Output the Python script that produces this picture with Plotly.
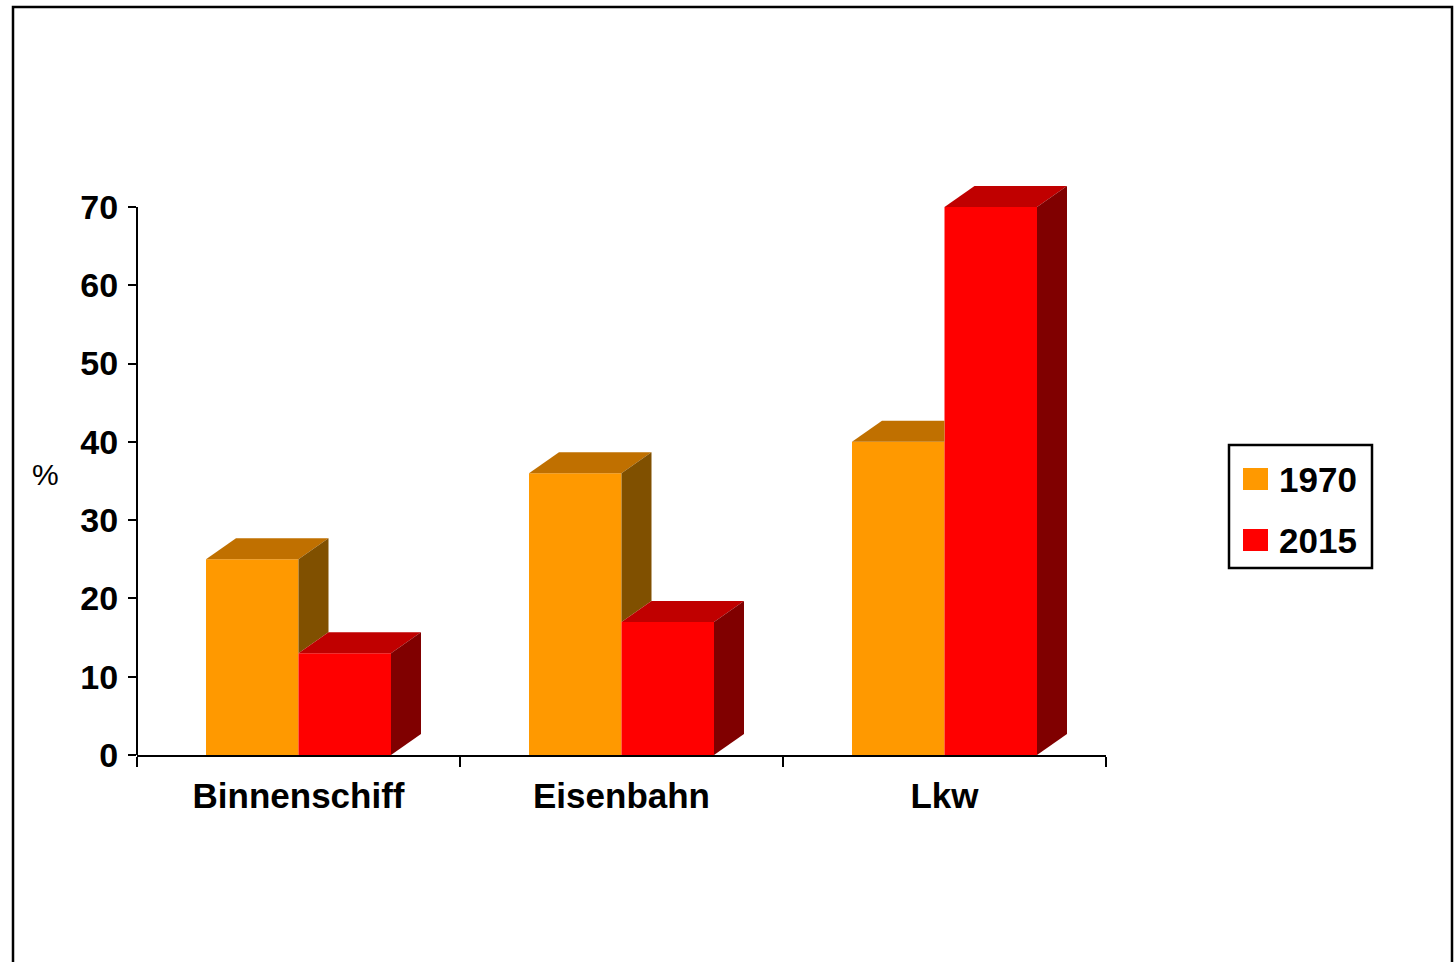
import plotly.graph_objects as go

# Modal split of freight transport, share in percent
categories = ["Binnenschiff", "Eisenbahn", "Lkw"]
years = ["1970", "2015"]
share_1970 = [25, 36, 40]
share_2015 = [13, 17, 70]
y_ticks = [0, 10, 20, 30, 40, 50, 60, 70]

front_colors = {"1970": "#FF9900", "2015": "#FF0000"}
top_colors = {"1970": "#C07000", "2015": "#C00000"}
side_colors = {"1970": "#805000", "2015": "#800000"}

FONT = "Liberation Sans, Arial, Helvetica, sans-serif"

# Page and plot-area geometry (pixels)
W, H = 1456, 962
PL, PR = 137, 1106          # plot area left / right
PT, PB = 180, 755           # plot area top / bottom
Y_LAST_PX = 207             # pixel row of the top tick
y_px_per_unit = (PB - Y_LAST_PX) / y_ticks[-1]
x_px_per_unit = (PR - PL) / 3.0
y_top = (PB - PT) / y_px_per_unit

# Bar width and the fake 3-D depth, in data units
BW = 92.5 / x_px_per_unit
DX = 30 / x_px_per_unit
DY = 21 / y_px_per_unit


def px_x(p):
    return (p - PL) / (PR - PL)


def px_y(p):
    return (PB - p) / (PB - PT)


fig = go.Figure()

# Front faces
for yr, vals in zip(years, [share_1970, share_2015]):
    fig.add_trace(go.Bar(
        x=list(range(len(categories))), y=vals, name=yr,
        offsetgroup=yr, marker=dict(color=front_colors[yr], line=dict(width=0)),
        showlegend=False, hoverinfo="skip",
    ))


def face(points, color):
    xs = [p[0] for p in points] + [points[0][0]]
    ys = [p[1] for p in points] + [points[0][1]]
    fig.add_trace(go.Scatter(
        x=xs, y=ys, mode="lines", fill="toself", fillcolor=color,
        line=dict(width=0, color=color), showlegend=False, hoverinfo="skip",
    ))


# Top and side faces, keeping only what the front (2015) bar leaves visible
for i in range(len(categories)):
    a, b = share_1970[i], share_2015[i]
    L, M, R = i - BW, i, i + BW
    if b > a:
        c = min(b, a + DY)
        e = M + DX * max(0.0, a + DY - b) / DY
        face([(L, a), (M, a), (M, c), (e, a + DY), (L + DX, a + DY)], top_colors["1970"])
    else:
        face([(L, a), (M, a), (M + DX, a + DY), (L + DX, a + DY)], top_colors["1970"])
        face([(M, b), (M, a), (M + DX, a + DY), (M + DX, b + DY)], side_colors["1970"])
    face([(M, b), (R, b), (R + DX, b + DY), (M + DX, b + DY)], top_colors["2015"])
    face([(R, 0), (R + DX, DY), (R + DX, b + DY), (R, b)], side_colors["2015"])

shapes = [
    # value axis line, ending at the last tick
    dict(type="line", xref="paper", yref="y", x0=0, x1=0, y0=0, y1=y_ticks[-1],
         line=dict(color="black", width=2), layer="above"),
    # outer frame
    dict(type="rect", xref="paper", yref="paper",
         x0=px_x(13), x1=px_x(1452), y0=px_y(980), y1=px_y(7),
         line=dict(color="black", width=2.5), layer="above"),
    # legend box
    dict(type="rect", xref="paper", yref="paper",
         x0=px_x(1229), x1=px_x(1372), y0=px_y(568), y1=px_y(445),
         line=dict(color="black", width=2.5), fillcolor="white", layer="above"),
]
annotations = [
    dict(text="%", xref="paper", yref="paper", x=px_x(45), y=px_y(475),
         showarrow=False, xanchor="center", yanchor="middle",
         font=dict(family=FONT, size=30, color="black")),
]
for k, yr in enumerate(years):
    cy = 479 + 61 * k
    shapes.append(dict(type="rect", xref="paper", yref="paper",
                       x0=px_x(1243), x1=px_x(1268), y0=px_y(cy + 11), y1=px_y(cy - 11),
                       line=dict(width=0), fillcolor=front_colors[yr], layer="above"))
    annotations.append(dict(text=yr, xref="paper", yref="paper", x=px_x(1277), y=px_y(cy),
                            showarrow=False, xanchor="left", yanchor="middle",
                            font=dict(family=FONT, size=35, color="black", weight="bold")))

fig.update_layout(
    width=W, height=H,
    margin=dict(l=PL, r=W - PR, t=PT, b=H - PB, pad=0),
    paper_bgcolor="white", plot_bgcolor="white",
    barmode="group", bargap=1 - 2 * BW, bargroupgap=0,
    showlegend=False,
    shapes=shapes, annotations=annotations,
    xaxis=dict(
        range=[-0.5, 2.5], tickvals=list(range(len(categories))), ticktext=categories,
        ticks="", showgrid=False, zeroline=False,
        showline=True, linecolor="black", linewidth=2,
        tickfont=dict(family=FONT, size=35, color="black", weight="bold"),
        ticklabelstandoff=9,
        minor=dict(tickvals=[-0.5, 0.5, 1.5, 2.5], ticks="outside", ticklen=10,
                   tickwidth=2, tickcolor="black", showgrid=False),
    ),
    yaxis=dict(
        range=[0, y_top], tickvals=y_ticks, ticks="outside", ticklen=8,
        tickwidth=2, tickcolor="black", showgrid=False, zeroline=False, showline=False,
        tickfont=dict(family=FONT, size=34, color="black", weight="bold"),
        ticklabelstandoff=3,
    ),
)

fig.write_html("out.html")
